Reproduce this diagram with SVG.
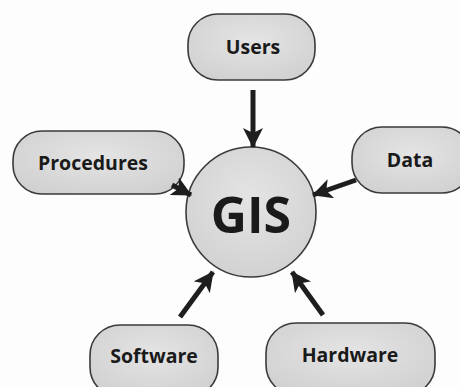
<svg xmlns="http://www.w3.org/2000/svg" width="460" height="387" viewBox="0 0 460 387">
<defs>
<marker id="ah" markerUnits="userSpaceOnUse" markerWidth="20" markerHeight="20" viewBox="0 0 20 20" refX="19" refY="10" orient="auto">
<path d="M0,0 L20,10 L0,20 L5,10 z" fill="#1e1e1e"/>
</marker>
<radialGradient id="g" cx="50%" cy="40%" r="70%">
<stop offset="0" stop-color="#e4e4e4"/>
<stop offset="1" stop-color="#cfcfcf"/>
</radialGradient>
</defs>
<style>
.n{fill:url(#g);stroke:#3a3a3a;stroke-width:1.6}
.t{font-family:"Open Sans","Liberation Sans",sans-serif;font-weight:bold;font-size:19.5px;fill:#1a1a1a;text-anchor:middle}
.c{stroke:#1e1e1e;stroke-width:5;fill:none;marker-end:url(#ah)}
</style>
<rect width="460" height="387" fill="#fdfdfd"/>
<g id="users"><rect class="n" x="188" y="14" width="127" height="66" rx="30"/><text class="t" x="253" y="54">Users</text></g>
<g id="procedures"><rect class="n" x="13" y="131" width="171" height="63" rx="29"/><text class="t" x="93" y="170">Procedures</text></g>
<g id="data"><rect class="n" x="352" y="127" width="120" height="66" rx="30"/><text class="t" x="410" y="167">Data</text></g>
<g id="software"><rect class="n" x="90" y="325" width="128" height="72" rx="30"/><text class="t" x="154" y="363">Software</text></g>
<g id="hardware"><rect class="n" x="266" y="323" width="169" height="72" rx="30"/><text class="t" x="350" y="362">Hardware</text></g>
<g id="gis"><circle class="n" cx="251" cy="212" r="65"/><text class="t" x="251" y="233" style="font-size:50px">GIS</text></g>
<g id="connectors">
<line class="c" x1="253" y1="90" x2="253" y2="147"/>
<line class="c" x1="172" y1="185" x2="191" y2="195"/>
<line class="c" x1="356" y1="180" x2="313" y2="195"/>
<line class="c" x1="180" y1="317" x2="213" y2="272"/>
<line class="c" x1="323" y1="315" x2="292" y2="272"/>
</g>
</svg>
